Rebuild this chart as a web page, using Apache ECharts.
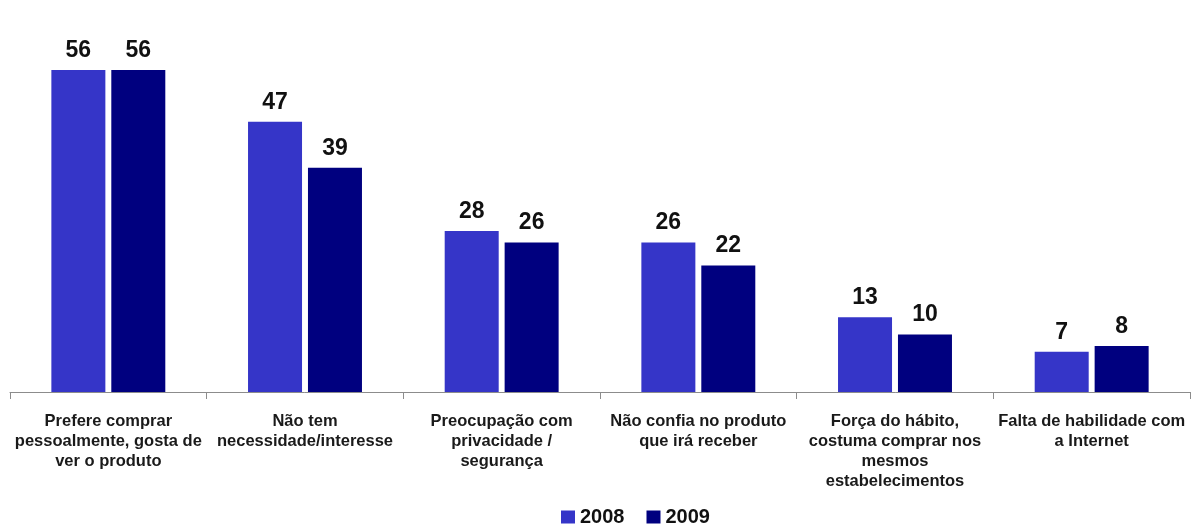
<!DOCTYPE html>
<html>
<head>
<meta charset="utf-8">
<script src="https://cdn.jsdelivr.net/npm/echarts@6/dist/echarts.min.js"></script>
<style>
  html, body { margin: 0; padding: 0; background: #fff; }
  #chart { width: 1193px; height: 524px; }
</style>
</head>
<body>
<div id="chart"></div>
<script>
// Reasons for not buying online (%), 2008 vs 2009
const categories = [
  'Prefere comprar\npessoalmente, gosta de\nver o produto',
  'Não tem\nnecessidade/interesse',
  'Preocupação com\nprivacidade /\nsegurança',
  'Não confia no produto\nque irá receber',
  'Força do hábito,\ncostuma comprar nos\nmesmos\nestabelecimentos',
  'Falta de habilidade com\na Internet'
];
const values2008 = [56, 47, 28, 26, 13, 7];
const values2009 = [56, 39, 26, 22, 10, 8];
const seriesNames = ['2008', '2009'];

const FONT = 'Liberation Sans, Arial, sans-serif';
const chart = echarts.init(document.getElementById('chart'));
const labelStyle = {
  show: true,
  position: 'top',
  distance: 8,
  fontFamily: FONT,
  fontWeight: 'bold',
  fontSize: 23,
  color: '#111'
};
chart.setOption({
  animation: false,
  grid: { left: 10, right: 3, top: 47, bottom: 132 },
  legend: {
    data: seriesNames,
    top: 502,
    left: 556,
    itemWidth: 14,
    itemHeight: 13,
    itemGap: 22,
    itemStyle: { borderWidth: 0 },
    icon: 'rect',
    textStyle: {
      fontFamily: FONT,
      fontWeight: 'bold',
      fontSize: 20,
      color: '#111'
    }
  },
  xAxis: {
    type: 'category',
    data: categories,
    axisLine: { lineStyle: { color: '#8c8c8c', width: 1 } },
    axisTick: { show: true, length: 7, lineStyle: { color: '#8c8c8c' } },
    axisLabel: {
      interval: 0,
      margin: 19,
      fontFamily: FONT,
      fontWeight: 'bold',
      fontSize: 16.5,
      lineHeight: 20,
      color: '#1a1a1a'
    }
  },
  yAxis: {
    type: 'value',
    min: 0,
    max: 60,
    show: false,
    splitLine: { show: false }
  },
  series: [
    {
      name: seriesNames[0],
      type: 'bar',
      data: values2008,
      barWidth: 54,
      barGap: '11%',
      itemStyle: { color: '#3535c8' },
      label: labelStyle
    },
    {
      name: seriesNames[1],
      type: 'bar',
      data: values2009,
      barWidth: 54,
      itemStyle: { color: '#00007f' },
      label: labelStyle
    }
  ]
});
</script>
</body>
</html>
